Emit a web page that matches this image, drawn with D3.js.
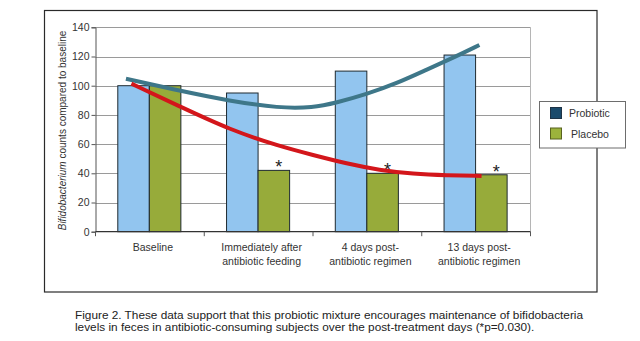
<!DOCTYPE html>
<html>
<head>
<meta charset="utf-8">
<script src="https://cdn.jsdelivr.net/npm/d3@7"></script>
<style>
  body { margin: 0; background: #fff; }
  svg { display: block; font-family: "Liberation Sans", Arial, sans-serif; }
</style>
</head>
<body>
<div id="chart"></div>
<script>
// chart data
var categories = ["Baseline", "Immediately after antibiotic feeding", "4 days post-antibiotic regimen", "13 days post-antibiotic regimen"];
var categoryLines = [["Baseline"], ["Immediately after", "antibiotic feeding"], ["4 days post-", "antibiotic regimen"], ["13 days post-", "antibiotic regimen"]];
var seriesNames = ["Probiotic", "Placebo"];
var probioticValues = [100, 95, 110, 121];
var placeboValues = [100, 42, 40, 39];
var significant = [false, true, true, true];
var yTicks = [0, 20, 40, 60, 80, 100, 120, 140];

// trend lines: [category position (0 = Baseline .. 3 = 13 days), value]
var probioticTrend = [[-0.22, 104.8], [0.28, 96.4], [0.73, 89.6], [1.19, 84.6], [1.5, 85.0], [1.71, 88.2],
    [1.99, 94.1], [2.27, 101.6], [2.54, 110.8], [2.79, 119.2], [3.03, 127.9]];
var placeboTrend = [[-0.17, 101.4], [0.28, 85.6], [0.73, 70.0], [1.19, 58.5], [1.5, 52.5], [1.81, 46.6],
    [2.11, 42.2], [2.42, 39.6], [2.73, 38.6], [3.05, 38.2]];

var captionLines = [
    "Figure 2. These data support that this probiotic mixture encourages maintenance of bifidobacteria",
    "levels in feces in antibiotic-consuming subjects over the post-treatment days (*p=0.030)."
];

// svg size
var svgWidth = 640;
var svgHeight = 341;

// plot area in pixels
var plot = { left: 95.5, right: 530.5, top: 27.3, bottom: 231.7 };

var svg = d3.select("#chart").append("svg")
    .attr("width", svgWidth)
    .attr("height", svgHeight);

// outer frame
svg.append("rect")
    .attr("x", 44.5).attr("y", 10.5)
    .attr("width", 552.5).attr("height", 281.5)
    .attr("fill", "none")
    .attr("stroke", "#2a2a2a")
    .attr("stroke-width", 1.2);

// scales
var x0 = d3.scaleBand()
    .domain(categories)
    .range([plot.left, plot.right]);

var bw = x0.bandwidth();

var x1 = d3.scaleBand()
    .domain(seriesNames)
    .range([bw * 0.205, bw * 0.785]);

var y = d3.scaleLinear()
    .domain([0, 140])
    .range([plot.bottom, plot.top]);

// category position -> pixel, for trend lines
var xPos = d3.scaleLinear()
    .domain([0, categories.length - 1])
    .range([x0(categories[0]) + bw / 2, x0(categories[categories.length - 1]) + bw / 2]);

// grid lines
svg.append("g")
    .selectAll("line")
    .data(yTicks.filter(d => d > 0))
    .enter()
    .append("line")
    .attr("x1", plot.left)
    .attr("x2", plot.right)
    .attr("y1", d => Math.round(y(d)) + 0.5)
    .attr("y2", d => Math.round(y(d)) + 0.5)
    .attr("stroke", "#9a9a9a")
    .attr("stroke-width", 1);

// right border of plot area
svg.append("line")
    .attr("x1", plot.right).attr("x2", plot.right)
    .attr("y1", y(140)).attr("y2", plot.bottom)
    .attr("stroke", "#b5b5b5");

// y axis
var leftAxis = d3.axisLeft(y).tickValues(yTicks).tickSize(4).tickPadding(2);
var yAxis = svg.append("g")
    .attr("transform", `translate(${plot.left}, 0)`)
    .call(leftAxis);
yAxis.select(".domain").attr("stroke", "#555");
yAxis.selectAll(".tick line").attr("stroke", "#555");
yAxis.selectAll("text")
    .attr("font-size", "10.5px")
    .attr("fill", "#333")
    .attr("font-family", "Liberation Sans, Arial, sans-serif");

// y label
var yLabel = svg.append("text")
    .attr("transform", `translate(66, ${(plot.top + plot.bottom) / 2 + 1}) rotate(-90)`)
    .attr("text-anchor", "middle")
    .attr("font-size", "10px")
    .attr("fill", "#333");
yLabel.append("tspan").attr("font-style", "italic").text("Bifidobacterium");
yLabel.append("tspan").text(" counts compared to baseline");

// bars
var bars = svg.append("g")
    .selectAll("g")
    .data(categories)
    .enter()
    .append("g")
    .attr("transform", d => `translate(${x0(d)}, 0)`);

bars.selectAll("rect")
    .data((d, i) => [
        { series: "Probiotic", value: probioticValues[i] },
        { series: "Placebo", value: placeboValues[i] }
    ])
    .enter()
    .append("rect")
    .attr("x", d => x1(d.series))
    .attr("y", d => y(d.value))
    .attr("width", x1.bandwidth())
    .attr("height", d => plot.bottom - y(d.value))
    .attr("fill", d => d.series === "Probiotic" ? "#92c5ef" : "#97ab3a")
    .attr("stroke", "#1f2a30")
    .attr("stroke-width", 1);

// significance stars
svg.append("g")
    .selectAll("text")
    .data(categories.filter((d, i) => significant[i]))
    .enter()
    .append("text")
    .attr("x", d => x0(d) + x1("Placebo") + x1.bandwidth() / 2 + 5)
    .attr("y", d => y(placeboValues[categories.indexOf(d)]) + 2.8)
    .attr("text-anchor", "middle")
    .attr("font-size", "18px")
    .attr("fill", "#222")
    .text("*");

// x axis
svg.append("line")
    .attr("x1", plot.left).attr("x2", plot.right)
    .attr("y1", plot.bottom).attr("y2", plot.bottom)
    .attr("stroke", "#333")
    .attr("stroke-width", 1.2);

svg.append("g")
    .selectAll("line")
    .data(categories.concat(["end"]))
    .enter()
    .append("line")
    .attr("x1", (d, i) => i < categories.length ? x0(d) : plot.right)
    .attr("x2", (d, i) => i < categories.length ? x0(d) : plot.right)
    .attr("y1", plot.bottom)
    .attr("y2", plot.bottom + 4.5)
    .attr("stroke", "#555");

var xLabels = svg.append("g")
    .selectAll("text")
    .data(categories)
    .enter()
    .append("text")
    .attr("x", d => x0(d) + bw / 2 + 3)
    .attr("y", 250.5)
    .attr("text-anchor", "middle")
    .attr("font-size", "10.5px")
    .attr("fill", "#333");

xLabels.selectAll("tspan")
    .data((d, i) => categoryLines[i])
    .enter()
    .append("tspan")
    .attr("x", function() { return this.parentNode.getAttribute("x"); })
    .attr("dy", (d, i) => i === 0 ? 0 : 14.3)
    .text(d => d);

// trend lines
var trendLine = d3.line()
    .x(d => xPos(d[0]))
    .y(d => y(d[1]))
    .curve(d3.curveBasis);

svg.append("path")
    .datum(probioticTrend)
    .attr("d", trendLine)
    .attr("fill", "none")
    .attr("stroke", "#3e7789")
    .attr("stroke-width", 4);

svg.append("path")
    .datum(placeboTrend)
    .attr("d", trendLine)
    .attr("fill", "none")
    .attr("stroke", "#d3161b")
    .attr("stroke-width", 4);

// legend
var legend = svg.append("g");
legend.append("rect")
    .attr("x", 539.5).attr("y", 101.5)
    .attr("width", 86).attr("height", 46.5)
    .attr("fill", "#fff")
    .attr("stroke", "#6d6d6d");

var legendItems = legend.selectAll(".item")
    .data(seriesNames)
    .enter()
    .append("g")
    .attr("class", "item")
    .attr("transform", (d, i) => `translate(550.5, ${107.5 + i * 20.5})`);

legendItems.append("rect")
    .attr("width", 11).attr("height", 11)
    .attr("fill", d => d === "Probiotic" ? "#1b4b6c" : "#9cb33c")
    .attr("stroke", d => d === "Probiotic" ? "#1e3346" : "#59631f");

legendItems.append("text")
    .attr("x", (d, i) => i === 0 ? 18.5 : 20.5)
    .attr("y", 9.5)
    .attr("font-size", "10.5px")
    .attr("fill", "#333")
    .text(d => d);

// caption
svg.append("g")
    .selectAll("text")
    .data(captionLines)
    .enter()
    .append("text")
    .attr("x", 75)
    .attr("y", (d, i) => 318.8 + i * 12.6)
    .attr("font-size", "11.8px")
    .attr("fill", "#222")
    .text(d => d);
</script>
</body>
</html>
